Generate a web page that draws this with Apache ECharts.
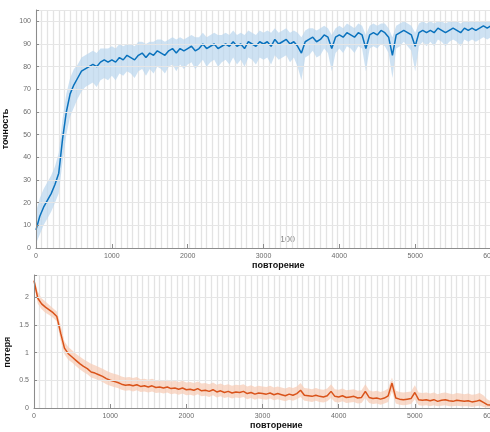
<!DOCTYPE html>
<html><head><meta charset="utf-8">
<script src="https://cdn.jsdelivr.net/npm/echarts@6/dist/echarts.min.js"></script>
<style>html,body{margin:0;padding:0;background:#fff}#c{width:490px;height:432px}</style>
</head><body><div id="c"></div>
<script>
const iters = [0,50,100,150,200,250,300,350,400,450,500,550,600,650,700,750,800,850,900,950,1000,1050,1100,1150,1200,1250,1300,1350,1400,1450,1500,1550,1600,1650,1700,1750,1800,1850,1900,1950,2000,2050,2100,2150,2200,2250,2300,2350,2400,2450,2500,2550,2600,2650,2700,2750,2800,2850,2900,2950,3000,3050,3100,3150,3200,3250,3300,3350,3400,3450,3500,3550,3600,3650,3700,3750,3800,3850,3900,3950,4000,4050,4100,4150,4200,4250,4300,4350,4400,4450,4500,4550,4600,4650,4700,4750,4800,4850,4900,4950,5000,5050,5100,5150,5200,5250,5300,5350,5400,5450,5500,5550,5600,5650,5700,5750,5800,5850,5900,5950,6000];
const accSmooth = [8,14,18,21,24,28,33,48,60,68, 72,75,78,79,80,81,80,82,83,82, 83,82,84,83,85,84,83,85,86,84, 86,85,87,86,85,87,88,86,88,87, 88,89,87,88,90,88,89,90,88,89, 90,89,91,89,90,88,91,90,89,91, 90,91,89,92,90,91,92,90,91,89, 86,91,92,93,91,92,94,93,88,93, 94,93,95,94,93,95,94,88,94,95, 94,96,95,93,85,94,95,96,95,94, 89,95,96,95,96,95,97,96,95,96, 97,96,95,97,96,97,96,97,98,97, 98];
const accHigh = [16,22,26,29,32,36,42,57,68,75, 79,81,84,85,86,87,86,88,88,88, 89,88,90,89,90,90,89,91,91,90, 91,91,92,92,91,92,93,92,93,92, 93,94,93,93,95,93,94,95,94,94, 95,94,96,94,95,94,96,95,94,96, 95,96,95,97,95,96,97,95,96,95, 93,96,97,97,96,97,98,97,94,97, 98,97,99,98,97,99,98,94,98,99, 98,99,99,97,93,98,99,100,99,98, 95,99,100,99,100,99,100,100,99,100, 100,100,99,100,100,100,100,100,100,100, 100];
const accLow = [2,6,10,13,16,20,24,38,50,58, 62,66,69,71,72,73,71,74,75,74, 76,74,77,76,78,77,75,78,79,76, 79,77,80,79,77,80,81,78,81,79, 81,82,79,81,83,80,82,83,80,82, 83,81,84,81,83,80,84,83,81,84, 83,84,81,85,83,84,85,82,84,80, 74,84,85,87,84,85,88,86,78,86, 88,86,89,88,86,89,88,78,88,89, 88,90,89,86,75,88,89,91,89,87, 78,89,91,89,91,89,92,91,89,91, 92,91,89,92,91,92,91,92,93,92, 93];
const lossSmooth = [2.3,1.98,1.88,1.82,1.77,1.72,1.65,1.35,1.08,0.98, 0.92,0.86,0.8,0.75,0.71,0.65,0.63,0.6,0.57,0.53, 0.5,0.48,0.46,0.43,0.41,0.42,0.4,0.42,0.39,0.4, 0.38,0.4,0.37,0.38,0.36,0.38,0.35,0.36,0.34,0.36, 0.33,0.34,0.32,0.35,0.31,0.32,0.3,0.33,0.29,0.31, 0.28,0.3,0.27,0.29,0.28,0.3,0.26,0.28,0.25,0.27, 0.26,0.25,0.27,0.24,0.26,0.24,0.22,0.25,0.23,0.26, 0.32,0.23,0.22,0.21,0.23,0.21,0.2,0.22,0.3,0.21, 0.2,0.22,0.19,0.2,0.21,0.18,0.19,0.3,0.19,0.17, 0.18,0.16,0.18,0.22,0.45,0.18,0.16,0.15,0.16,0.17, 0.28,0.15,0.14,0.15,0.13,0.15,0.12,0.14,0.15,0.13, 0.12,0.14,0.13,0.12,0.13,0.11,0.12,0.14,0.1,0.06, 0.05];
const lossHigh = [2.35,2.1,1.98,1.92,1.86,1.8,1.74,1.5,1.2,1.1, 1.04,0.98,0.93,0.88,0.84,0.8,0.77,0.74,0.71,0.67, 0.64,0.62,0.6,0.57,0.55,0.56,0.54,0.56,0.52,0.53, 0.51,0.53,0.5,0.51,0.49,0.51,0.48,0.49,0.47,0.49, 0.46,0.47,0.45,0.48,0.44,0.45,0.43,0.46,0.42,0.44, 0.41,0.43,0.4,0.42,0.41,0.43,0.39,0.41,0.38,0.4, 0.39,0.38,0.4,0.37,0.39,0.37,0.35,0.38,0.36,0.39, 0.45,0.36,0.35,0.34,0.36,0.34,0.33,0.35,0.43,0.34, 0.33,0.35,0.32,0.33,0.34,0.31,0.32,0.43,0.32,0.3, 0.31,0.29,0.31,0.35,0.55,0.31,0.29,0.28,0.29,0.3, 0.41,0.28,0.27,0.28,0.26,0.28,0.25,0.27,0.28,0.26, 0.25,0.27,0.26,0.25,0.26,0.24,0.25,0.27,0.23,0.16, 0.12];
const lossLow = [2.22,1.88,1.78,1.72,1.68,1.63,1.56,1.22,0.97,0.87, 0.82,0.76,0.7,0.65,0.61,0.55,0.53,0.5,0.47,0.43, 0.4,0.38,0.36,0.33,0.31,0.32,0.3,0.32,0.29,0.3, 0.28,0.3,0.27,0.28,0.26,0.28,0.25,0.26,0.24,0.26, 0.23,0.24,0.22,0.25,0.21,0.22,0.2,0.23,0.19,0.21, 0.18,0.2,0.17,0.19,0.18,0.2,0.16,0.18,0.15,0.17, 0.16,0.15,0.17,0.14,0.16,0.14,0.12,0.15,0.13,0.16, 0.2,0.13,0.12,0.11,0.13,0.11,0.1,0.12,0.18,0.11, 0.1,0.12,0.09,0.1,0.11,0.08,0.09,0.18,0.09,0.07, 0.08,0.06,0.08,0.11,0.3,0.08,0.06,0.05,0.06,0.07, 0.16,0.05,0.04,0.05,0.03,0.05,0.03,0.04,0.05,0.03, 0.03,0.04,0.03,0.03,0.03,0.02,0.03,0.04,0.02,0.01, 0.01];
const xLabel = 'повторение';
const accName = 'точность';
const lossName = 'потеря';
const strayText = '100';

const pairs = a => iters.map((x, i) => [x, a[i]]);
const bandData = (h, l) => iters.map((x, i) => [x, l[i], h[i]]);

const FONT = 'Liberation Sans, Arial, sans-serif';
const lbl = {fontSize: 7, color: '#6b6b6b', fontFamily: FONT};
function mainX(gi) {
  return {type: 'value', gridIndex: gi, min: 0, max: 6000, interval: 1000, position: 'bottom',
    axisLine: {lineStyle: {color: '#8c8c8c', width: 1}},
    axisTick: {inside: true, length: 4, lineStyle: {color: '#8c8c8c'}},
    axisLabel: Object.assign({margin: 5, formatter: v => String(v)}, lbl),
    splitLine: {show: false}, z: 5};
}
function epochX(gi) {
  return {type: 'value', gridIndex: gi, min: 0, max: 6000, interval: 75, position: 'top',
    axisLine: {show: false}, axisTick: {show: false}, axisLabel: {show: false},
    splitLine: {show: true, lineStyle: {color: '#e3e3e3', width: 1.3}}};
}
function yAx(gi, max, interval, lim) {
  return {type: 'value', gridIndex: gi, min: 0, max: max, interval: interval,
    axisLine: {show: true, lineStyle: {color: '#8c8c8c', width: 1}},
    axisTick: {show: true, inside: true, length: 3, lineStyle: {color: '#8c8c8c'}},
    axisLabel: Object.assign({margin: 5, formatter: v => v > lim ? '' : String(v)}, lbl),
    splitLine: {show: true, lineStyle: {color: '#e6e6e6', width: 1}}, z: 5};
}
function band(xi, yi, data, color) {
  return {
    type: 'custom', xAxisIndex: xi, yAxisIndex: yi, silent: true, z: 2,
    data: data,
    encode: {x: 0, y: [1, 2]},
    renderItem: function (params, api) {
      if (params.dataIndex !== 0) return null;
      const up = [], lo = [];
      for (let i = 0; i < data.length; i++) {
        up.push(api.coord([data[i][0], data[i][2]]));
        lo.push(api.coord([data[i][0], data[i][1]]));
      }
      return {type: 'polygon', shape: {points: up.concat(lo.reverse())},
        style: {fill: color, opacity: 0.7}};
    }
  };
}
const chart = echarts.init(document.getElementById('c'), null, {renderer: 'canvas'});
chart.setOption({
  backgroundColor: '#ffffff',
  animation: false,
  grid: [
    {left: 36, top: 10, width: 455, height: 238, containLabel: false, outerBoundsMode: 'none'},
    {left: 34, top: 275, width: 457, height: 133, containLabel: false, outerBoundsMode: 'none'}
  ],
  xAxis: [mainX(0), mainX(1), epochX(0), epochX(1)],
  yAxis: [yAx(0, 105, 10, 100), yAx(1, 2.4, 0.5, 2)],
  series: [
    band(0, 0, bandData(accHigh, accLow), '#b9d5ee'),
    {type: 'line', xAxisIndex: 0, yAxisIndex: 0, data: pairs(accSmooth), symbol: 'none', lineStyle: {color: '#0a72bd', width: 1.5}, z: 3},
    band(1, 1, bandData(lossHigh, lossLow), '#f6cab4'),
    {type: 'line', xAxisIndex: 1, yAxisIndex: 1, data: pairs(lossSmooth), symbol: 'none', lineStyle: {color: '#d9531a', width: 1.5}, z: 3}
  ],
  graphic: [
    {type: 'text', left: 252, top: 261, style: {text: xLabel, font: 'bold 9px ' + FONT, fill: '#111'}},
    {type: 'text', left: 250, top: 421, style: {text: xLabel, font: 'bold 9px ' + FONT, fill: '#111'}},
    {type: 'text', x: 6, y: 129, rotation: Math.PI / 2, style: {text: accName, font: 'bold 9px ' + FONT, fill: '#111', align: 'center', verticalAlign: 'middle'}},
    {type: 'text', x: 8, y: 352, rotation: Math.PI / 2, style: {text: lossName, font: 'bold 9px ' + FONT, fill: '#111', align: 'center', verticalAlign: 'middle'}},
    {type: 'text', left: 280, top: 235, style: {text: strayText, font: '9px ' + FONT, fill: '#8a8a8a'}}
  ]
});
</script></body></html>
